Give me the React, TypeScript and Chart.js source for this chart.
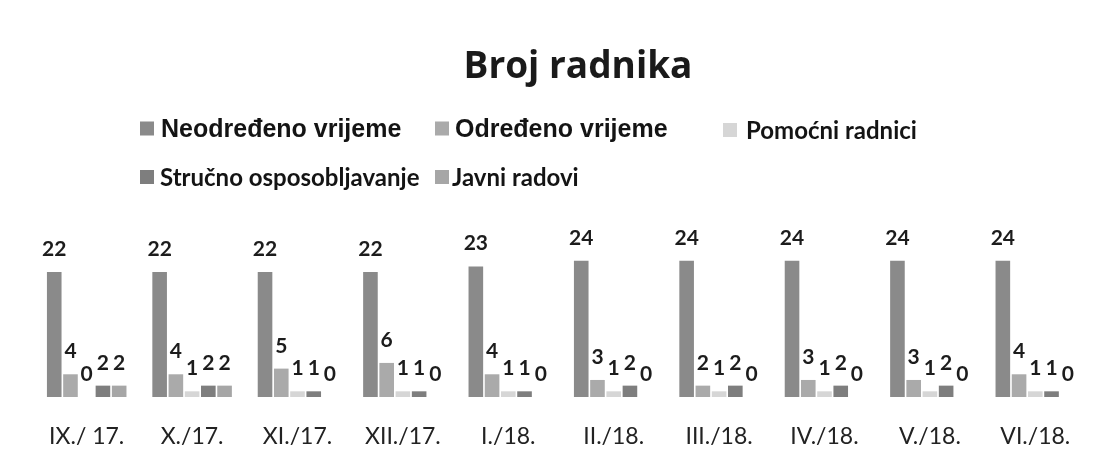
import React, { useEffect, useRef } from "react";
import { Chart, registerables } from "chart.js";

Chart.register(...registerables);

const categories = ["IX./ 17.", "X./17.", "XI./17.", "XII./17.", "I./18.", "II./18.", "III./18.", "IV./18.", "V./18.", "VI./18."];
const neodredenoVrijeme = [22, 22, 22, 22, 23, 24, 24, 24, 24, 24];
const odredenoVrijeme = [4, 4, 5, 6, 4, 3, 2, 3, 3, 4];
const pomocniRadnici = [0, 1, 1, 1, 1, 1, 1, 1, 1, 1];
const strucnoOsposobljavanje = [2, 2, 1, 1, 1, 2, 2, 2, 2, 1];
const javniRadovi = [2, 2, 0, 0, 0, 0, 0, 0, 0, 0];
const seriesNames = ["Neodređeno vrijeme", "Određeno vrijeme", "Pomoćni radnici", "Stručno osposobljavanje", "Javni radovi"];
const titleText = "Broj radnika";

const seriesColors = ["#8a8a8a", "#aaaaaa", "#d6d6d6", "#7e7e7e", "#a6a6a6"];
const seriesValues = [neodredenoVrijeme, odredenoVrijeme, pomocniRadnici, strucnoOsposobljavanje, javniRadovi];

const valueLabels = {
  id: "valueLabels",
  afterDatasetsDraw(chart: any) {
    const ctx = chart.ctx;
    ctx.save();
    ctx.font = "bold 21px Lato";
    ctx.fillStyle = "#1c1c1c";
    ctx.textAlign = "center";
    ctx.textBaseline = "alphabetic";
    chart.data.datasets.forEach((ds: any, i: number) => {
      const meta = chart.getDatasetMeta(i);
      meta.data.forEach((bar: any, j: number) => {
        ctx.fillText(String(ds.data[j]), bar.x, bar.y - 16);
      });
    });
    ctx.restore();
  },
};

const legendItems = [
  { idx: 0, left: 140, top: 128, font: "bold 25px 'Liberation Sans'", gap: 7 },
  { idx: 1, left: 435, top: 128, font: "bold 25px 'Liberation Sans'", gap: 6 },
  { idx: 2, left: 723, top: 130, font: "bold 24px Lato", gap: 9 },
  { idx: 3, left: 140, top: 177, font: "bold 24px Lato", gap: 6 },
  { idx: 4, left: 435, top: 177, font: "bold 24px Lato", gap: 3 },
];

export default function App() {
  const canvasRef = useRef<HTMLCanvasElement | null>(null);

  useEffect(() => {
    document.body.style.margin = "0";
    const canvas = canvasRef.current;
    if (!canvas) return;
    const chart = new Chart(canvas, {
      type: "bar",
      data: {
        labels: categories,
        datasets: seriesValues.map((vals, i) => ({
          label: seriesNames[i],
          data: vals,
          backgroundColor: seriesColors[i],
          borderWidth: 0,
          categoryPercentage: 0.77,
          barPercentage: 0.9,
        })),
      },
      options: {
        animation: false,
        responsive: false,
        maintainAspectRatio: false,
        layout: { padding: { left: 34, right: 19, top: 238, bottom: 7 } },
        plugins: {
          legend: { display: false },
          tooltip: { enabled: false },
          title: { display: false },
        },
        scales: {
          x: {
            grid: { display: false, drawTicks: false },
            border: { display: false },
            ticks: {
              color: "#222222",
              font: { family: "Lato", size: 23 },
              padding: 26,
              maxRotation: 0,
              autoSkip: false,
            },
            afterFit: (scale: any) => {
              scale.height = 60;
            },
          },
          y: {
            display: false,
            min: 0,
            max: 28,
          },
        },
      },
      plugins: [valueLabels],
    });
    return () => chart.destroy();
  }, []);

  return (
    <div style={{ position: "absolute", left: 0, top: 0, width: 1107, height: 464, background: "#ffffff" }}>
      <canvas ref={canvasRef} width={1107} height={464} style={{ width: 1107, height: 464, display: "block" }} />
      <div
        style={{
          position: "absolute",
          left: 578,
          top: 64,
          transform: "translate(-50%, -50%)",
          whiteSpace: "nowrap",
          color: "#1a1a1a",
          font: "bold 37px 'Open Sans'",
          lineHeight: 1.2,
        }}
      >
        {titleText}
      </div>
      {legendItems.map((it) => (
        <div
          key={it.idx}
          style={{
            position: "absolute",
            left: it.left,
            top: it.top,
            transform: "translateY(-50%)",
            display: "flex",
            alignItems: "center",
            whiteSpace: "nowrap",
            color: "#141414",
            font: it.font,
            lineHeight: 1,
          }}
        >
          <span style={{ display: "inline-block", width: 14, height: 14, background: seriesColors[it.idx], marginRight: it.gap }} />
          <span>{seriesNames[it.idx]}</span>
        </div>
      ))}
    </div>
  );
}
